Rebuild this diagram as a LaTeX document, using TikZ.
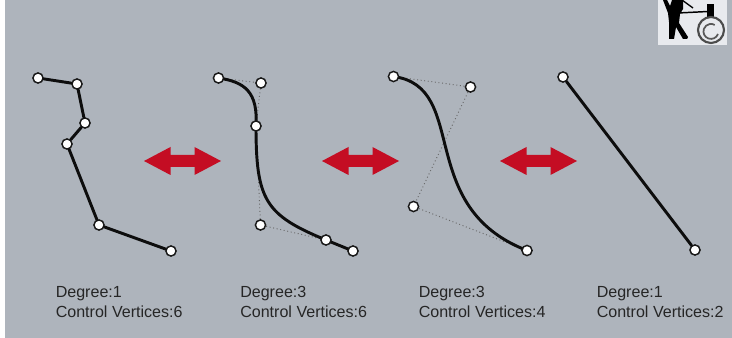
\documentclass[tikz,border=0pt]{standalone}
\usepackage{fontspec}
\setmainfont{Liberation Sans}
\definecolor{bg}{HTML}{AEB4BC}
\definecolor{arrowred}{HTML}{C40D23}
\definecolor{iconbg}{HTML}{E8EAEE}
\pgfdeclarelayer{back}
\pgfdeclarelayer{mid}
\pgfsetlayers{back,mid,main}
\tikzset{
  cv/.style={circle,draw=black!90,fill=white,line width=1.1pt,inner sep=0pt,minimum size=7.6pt},
  seg/.style={line width=2.2pt,black!95,line cap=round,line join=round},
  hull/.style={line width=0.7pt,black!60,dotted},
  lab/.style={anchor=north west,align=left,inner sep=0pt,font=\fontsize{12.05pt}{14.9pt}\selectfont,text=black!85},
  red arrow/.style={fill=arrowred,draw=none},
}
\newcommand{\dbl}[1]{%
  \fill[red arrow,shift={(#1,0)}] (144,161) -- (170.5,147) -- (170.5,155) -- (194.5,155) -- (194.5,147) -- (221,161) -- (194.5,175) -- (194.5,167) -- (170.5,167) -- (170.5,175) -- cycle;}
\begin{document}
\begin{tikzpicture}[x=0.75pt,y=-0.75pt]
\useasboundingbox (0,0) rectangle (732,338);
\begin{pgfonlayer}{back}
\fill[white] (0,0) rectangle (732,338);
\fill[bg] (5,0) rectangle (732,338);
\end{pgfonlayer}
% icon
\fill[iconbg] (658,0) rectangle (727,45.5);
\begin{scope}
\clip (658,0) rectangle (727,45.5);
\fill[black] (663,0) -- (667,0) -- (670,6) -- (672,0) -- (683,0) -- (683,9) -- (680,14) -- (679,23) -- (688,37) -- (687,39) -- (683,39) -- (676,27) -- (674,39) -- (669,39) -- (669,22) -- (668,13) -- cycle;
\draw[black,line width=1.1pt] (678,13) -- (708,11.5);
\draw[black,line width=1pt] (682,0) -- (693,8);
\fill[black] (707,4) rectangle (714,17);
\draw[black!70,line width=1.6pt] (711,30) circle[radius=13];
\draw[black!65,line width=1.3pt] (718,34) arc[start angle=20,end angle=300,radius=7.5];
\end{scope}
% arrows
\dbl{0}\dbl{178}\dbl{356}
% panel 1
\node[cv] (a1) at (38,78) {};
\node[cv] (a2) at (77,84) {};
\node[cv] (a3) at (85,123) {};
\node[cv] (a4) at (67,144) {};
\node[cv] (a5) at (99,225) {};
\node[cv] (a6) at (171,251) {};
\draw[seg] (a1) -- (a2) -- (a3) -- (a4) -- (a5) -- (a6);
% panel 2
\node[cv] (b1) at (218.5,78) {};
\node[cv] (b2) at (261,83) {};
\node[cv] (b3) at (256,126) {};
\node[cv] (b4) at (260.5,225) {};
\node[cv] (b5) at (326,240) {};
\node[cv] (b6) at (353,251) {};
\begin{pgfonlayer}{mid}
\draw[hull] (b1) -- (b2) -- (b3) -- (b4) -- (b5) -- (b6);
\draw[seg] (b1.center) .. controls (245,82) and (258,92) .. (b3.center)
  .. controls (256,200) and (265,215) .. (b5.center) -- (b6.center);
\end{pgfonlayer}
% panel 3
\node[cv] (c1) at (393.5,76.5) {};
\node[cv] (c2) at (470.5,87) {};
\node[cv] (c3) at (413.5,206.5) {};
\node[cv] (c4) at (527,250.5) {};
\begin{pgfonlayer}{mid}
\draw[hull] (c1) -- (c2) -- (c3) -- (c4);
\draw[seg] (c1.center) .. controls (c2.center) and (c3.center) .. (c4.center);
\end{pgfonlayer}
% panel 4
\node[cv] (d1) at (563,77) {};
\node[cv] (d2) at (695,250) {};
\draw[seg] (d1) -- (d2);
% labels
\node[lab] (t1) at (55.5,286.5) {Degree:1\\Control Vertices:6};
\node[lab] (t2) at (240,286.5) {Degree:3\\Control Vertices:6};
\node[lab] (t3) at (418.5,286.5) {Degree:3\\Control Vertices:4};
\node[lab] (t4) at (596.5,286.5) {Degree:1\\Control Vertices:2};
\end{tikzpicture}
\end{document}
